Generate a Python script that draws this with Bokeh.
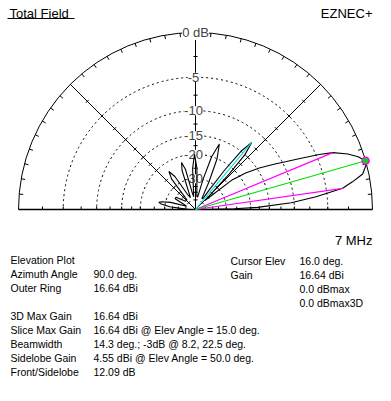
import math
from bokeh.plotting import figure
from bokeh.models import Range1d, Label
from bokeh.embed import file_html
from bokeh.resources import INLINE
from bokeh.core.properties import value

# ---------------- data ----------------
elev_deg = [0, 1, 2, 4, 6, 8.2, 10, 12, 15, 16, 18, 20, 22.5, 24, 26, 28, 30, 33, 36, 39, 42,
            44, 45, 46.5, 48, 50, 52, 53.5, 55, 56,
            60, 64, 67, 70, 73, 76, 80,
            84, 88, 91, 94, 98,
            101, 104, 106.5, 109, 113,
            118, 122, 125, 128, 132,
            140, 148, 152, 156,
            160, 164, 167, 169, 171, 174, 178, 180]
gain_db = [-60, -26, -18, -10.5, -6.5, -3, -1.8, -0.6, 0, 0, -0.6, -1.5, -3, -4.6, -7.2, -9.5, -11.5, -14.5, -18, -23, -40,
           -45, -35, -22, -15, -12.09, -15, -22, -35, -45,
           -45, -30, -20, -16, -20, -30, -45,
           -45, -25, -20, -25, -45,
           -40, -25, -22, -25, -45,
           -40, -26, -23, -26, -45,
           -45, -35, -35, -45,
           -50, -33, -28, -26.7, -28, -33, -50, -60]
ring_db = [-5, -10, -15, -20, -30]
ring_labels = ["-5", "-10", "-15", "-20", "-30"]
scale_tick_db = [-2.5, -5, -7.5, -10, -12.5, -15, -17.5, -20, -25, -30, -35, -40, -50]
beam_edges_deg = [8.2, 22.5]
beam_edges_db = [-3.0, -3.0]
cursor_deg = 16.0
sidelobe_deg = 50.0
sidelobe_db = -12.09

info_left = ["Elevation Plot", "Azimuth Angle", "Outer Ring", "", "3D Max Gain", "Slice Max Gain",
             "Beamwidth", "Sidelobe Gain", "Front/Sidelobe"]
info_left_vals = ["", "90.0 deg.", "16.64 dBi", "", "16.64 dBi", "16.64 dBi @ Elev Angle = 15.0 deg.",
                  "14.3 deg.; -3dB @ 8.2, 22.5 deg.", "4.55 dBi @ Elev Angle = 50.0 deg.", "12.09 dB"]
info_right = ["Cursor Elev", "Gain", "", ""]
info_right_vals = ["16.0 deg.", "16.64 dBi", "0.0 dBmax", "0.0 dBmax3D"]

# ---------------- geometry ----------------
CX, CY, R = 195.0, 209.0, 177.0   # reference pixel centre and outer radius
W, H = 375, 385

def px(X, Y):
    return (X - CX) / R, (CY - Y) / R

def rad(db):
    return 0.89 ** (-db / 2.0)   # ARRL log scale

def pol(deg, db):
    r = rad(db)
    a = math.radians(deg)
    return r * math.cos(a), r * math.sin(a)

x0, y1 = px(0, 0)
x1, y0 = px(W, H)

p = figure(width=W, height=H, x_range=Range1d(x0, x1), y_range=Range1d(y0, y1),
           output_backend="svg", toolbar_location=None, min_border=0)
p.axis.visible = False
p.grid.visible = False
p.outline_line_color = None
p.background_fill_color = "white"
p.border_fill_color = "white"

# rings
for db in ring_db:
    p.arc(x=0, y=0, radius=rad(db), start_angle=0, end_angle=math.pi,
          line_color="black", line_dash="2 3", line_width=1)
p.arc(x=0, y=0, radius=1.0, start_angle=0, end_angle=math.pi, line_color="black", line_width=1)

# ticks on outer ring every 5 deg
tx0, ty0, tx1, ty1 = [], [], [], []
for d in range(5, 180, 5):
    a = math.radians(d)
    tx0.append(math.cos(a)); ty0.append(math.sin(a))
    tx1.append((1 - 4 / R) * math.cos(a)); ty1.append((1 - 4 / R) * math.sin(a))
p.segment(tx0, ty0, tx1, ty1, line_color="black", line_width=1)

# radial lines
for d in [45, 90, 135]:
    a = math.radians(d)
    p.line([0, math.cos(a)], [0, math.sin(a)], line_color="black", line_width=1)
p.line([-1, 1], [0, 0], line_color="black", line_width=1.5)

# scale ticks along baseline, vertical and 45-degree lines
sx0, sy0, sx1, sy1 = [], [], [], []
tl = 3 / R
for db in scale_tick_db:
    r = rad(db)
    for d in [0, 180]:
        a = math.radians(d)
        sx0.append(r * math.cos(a)); sy0.append(0)
        sx1.append(r * math.cos(a)); sy1.append(tl)
    for d in [45, 90, 135]:
        a = math.radians(d)
        mx, my = r * math.cos(a), r * math.sin(a)
        nx, ny = -math.sin(a), math.cos(a)
        sx0.append(mx - nx * tl * 0.7); sy0.append(my - ny * tl * 0.7)
        sx1.append(mx + nx * tl * 0.7); sy1.append(my + ny * tl * 0.7)
p.segment(sx0, sy0, sx1, sy1, line_color="black", line_width=1)

# ring labels
FONT = "Liberation Sans"
for db, lab in zip(ring_db, ring_labels):
    p.add_layout(Label(x=0, y=rad(db), text=lab, text_font=FONT, text_font_size="13px",
                       text_align="center", text_baseline="middle", x_offset=-2,
                       background_fill_color="white"))
p.add_layout(Label(x=0, y=1.0, text="0 dB", text_font=FONT, text_font_size="13px",
                   text_align="center", text_baseline="middle", background_fill_color="white"))

# pattern (drawn over labels)
pts = [pol(d, g) for d, g in zip(elev_deg, gain_db)]
p.line([q[0] for q in pts], [q[1] for q in pts], line_color="black", line_width=1.1, level="overlay")

# beamwidth lines
for d, g in zip(beam_edges_deg, beam_edges_db):
    ex, ey = pol(d, g)
    p.line([0, ex], [0, ey], line_color="#FF00FF", line_width=1.2, level="overlay")
# sidelobe line
sx, sy = pol(sidelobe_deg, sidelobe_db)
p.line([0, sx], [0, sy], line_color="#00E0E0", line_width=1.1, level="overlay")
# cursor line
cx_, cy_ = pol(cursor_deg, 0)
p.line([0, cx_], [0, cy_], line_color="#00E000", line_width=1.2, level="overlay")
p.scatter([cx_], [cy_], size=7, fill_color="#00E000", line_color="#FF00FF", line_width=1.5, level="overlay")

# titles
tx, ty = px(9, 13)
p.text([tx], [ty], text=["Total Field"], text_font=value(FONT), text_font_size="13px",
       text_baseline="alphabetic", text_align="left")
ux0, uy = px(7, 18)
ux1, _ = px(74, 18)
p.line([ux0, ux1], [uy, uy], line_color="black", line_width=1)
ex_, ey_ = px(372, 13)
p.text([ex_], [ey_], text=["EZNEC+"], text_font=value(FONT), text_font_size="13px",
       text_baseline="alphabetic", text_align="right")
fx, fy = px(372, 240)
p.text([fx], [fy], text=["7 MHz"], text_font=value(FONT), text_font_size="13px",
       text_baseline="alphabetic", text_align="right")

# info block
ys = [259 + 14 * i for i in range(len(info_left))]
lx = [px(10, y)[0] for y in ys]
vx = [px(93, y)[0] for y in ys]
yy = [px(0, y)[1] for y in ys]
p.text(lx, yy, text=info_left, text_font=value(FONT), text_font_size="10.5px", text_baseline="middle")
p.text(vx, yy, text=info_left_vals, text_font=value(FONT), text_font_size="10.5px", text_baseline="middle")
ys2 = [260 + 14 * i for i in range(len(info_right))]
p.text([px(230, y)[0] for y in ys2], [px(0, y)[1] for y in ys2], text=info_right,
       text_font=value(FONT), text_font_size="10.5px", text_baseline="middle")
p.text([px(299, y)[0] for y in ys2], [px(0, y)[1] for y in ys2], text=info_right_vals,
       text_font=value(FONT), text_font_size="10.5px", text_baseline="middle")

open("out.html", "w").write(file_html(p, INLINE))
